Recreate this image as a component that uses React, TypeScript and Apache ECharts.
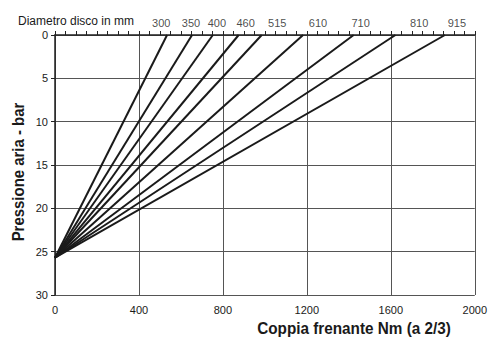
import React, { useEffect, useRef } from "react";
import * as echarts from "echarts";

const diameters = ["300", "350", "400", "460", "515", "610", "710", "810", "915"];
const startPressure = [25.7, 25.7, 25.7, 25.7, 25.7, 25.7, 25.7, 25.7, 25.7];
const startTorque = [0, 0, 0, 0, 0, 0, 0, 0, 0];
const topTorque = [534, 653, 752, 875, 985, 1182, 1423, 1622, 1858];
const labelTorque = [506, 648, 771, 908, 1059, 1253, 1456, 1735, 1915];
const xTicks = [0, 400, 800, 1200, 1600, 2000];
const yTicks = [0, 5, 10, 15, 20, 25, 30];

export default function App() {
  const ref = useRef<HTMLDivElement>(null);
  useEffect(() => {
    const chart = echarts.init(ref.current!, null, { renderer: "svg" });
    const lineSeries = diameters.map((d, i) => ({
      type: "line",
      name: d,
      data: [
        [startTorque[i], startPressure[i]],
        [topTorque[i], 0],
      ],
      symbol: "none",
      lineStyle: { color: "#1a1a1a", width: 2 },
      silent: true,
    }));
    const labelSeries = {
      type: "scatter",
      data: diameters.map((d, i) => ({ value: [labelTorque[i], 0], name: d })),
      symbolSize: 0,
      label: {
        show: true,
        position: "top",
        distance: 7,
        formatter: (p: any) => p.name,
        fontFamily: "Liberation Sans, Arial, sans-serif",
        fontSize: 11,
        color: "#1a1a1a",
      },
      clip: false,
      silent: true,
    };
    const titleFont = "bold 17px 'Liberation Sans', Arial, sans-serif";
    chart.setOption({
      animation: false,
      backgroundColor: "#fff",
      grid: { left: 55, top: 35, width: 423, height: 260, containLabel: false },
      xAxis: {
        type: "value",
        min: xTicks[0],
        max: xTicks[xTicks.length - 1],
        interval: 400,
        axisLine: { show: true, lineStyle: { color: "#222", width: 1.5 } },
        axisTick: { show: true, inside: true, length: 4, lineStyle: { color: "#222" } },
        minorTick: { show: true, splitNumber: 8, length: 4, lineStyle: { color: "#222" } },
        splitLine: { show: true, lineStyle: { color: "#555", width: 1 } },
        axisLabel: {
          fontFamily: "Liberation Sans, Arial, sans-serif",
          fontSize: 11,
          color: "#1a1a1a",
          margin: 9,
          formatter: (v: number) => String(v),
        },
      },
      yAxis: {
        type: "value",
        inverse: true,
        min: yTicks[0],
        max: yTicks[yTicks.length - 1],
        interval: 5,
        axisLine: { show: true, lineStyle: { color: "#222", width: 1.5 } },
        axisTick: { show: true, inside: false, length: 4, lineStyle: { color: "#222" } },
        splitLine: { show: true, lineStyle: { color: "#555", width: 1 } },
        axisLabel: {
          fontFamily: "Liberation Sans, Arial, sans-serif",
          fontSize: 11,
          color: "#1a1a1a",
          margin: 7,
          formatter: (v: number) => String(v),
        },
      },
      graphic: [
        {
          type: "text",
          left: 18,
          top: 15,
          style: {
            text: "Diametro disco in mm",
            font: "12px Liberation Sans, Arial, sans-serif",
            fill: "#1a1a1a",
          },
        },
        {
          type: "text",
          x: 354,
          y: 328,
          scaleX: 0.9,
          style: {
            text: "Coppia frenante Nm (a 2/3)",
            font: titleFont,
            fill: "#1a1a1a",
            align: "center",
            verticalAlign: "middle",
          },
        },
        {
          type: "text",
          x: 18,
          y: 172,
          rotation: Math.PI / 2,
          scaleX: 0.88,
          style: {
            text: "Pressione aria - bar",
            font: titleFont,
            fill: "#1a1a1a",
            align: "center",
            verticalAlign: "middle",
          },
        },
      ],
      series: [...lineSeries, labelSeries],
    });
    return () => chart.dispose();
  }, []);
  return <div ref={ref} style={{ width: 490, height: 338, position: "absolute", left: 0, top: 0 }} />;
}
